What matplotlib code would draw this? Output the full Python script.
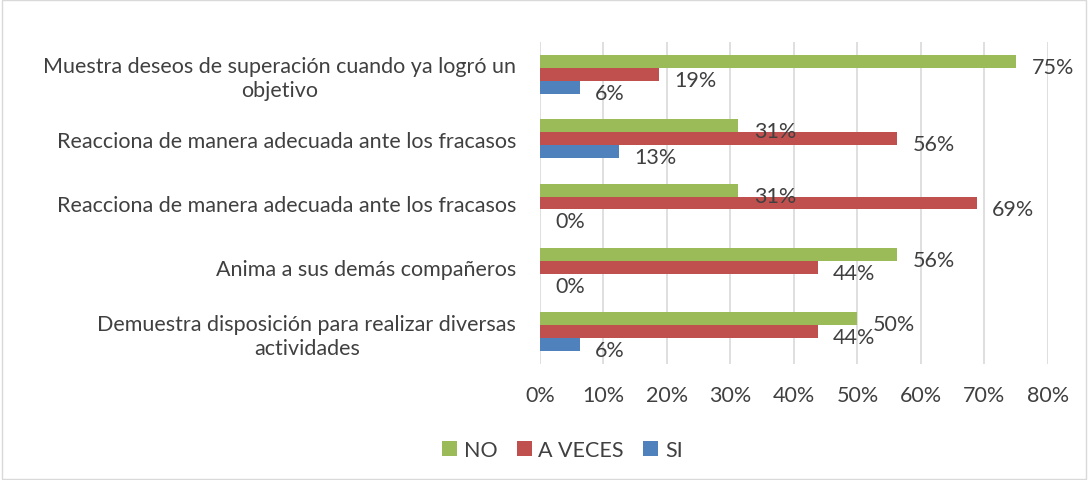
import numpy as np
import matplotlib.pyplot as plt
from matplotlib.patches import Rectangle

plt.rcParams['font.family'] = ['Lato', 'DejaVu Sans']

categories = [
    "Muestra deseos de superación cuando ya logró un\nobjetivo",
    "Reacciona de manera adecuada ante los fracasos",
    "Reacciona de manera adecuada ante los fracasos",
    "Anima a sus demás compañeros",
    "Demuestra disposición para realizar diversas\nactividades",
]
no_vals = [75, 31.25, 31.25, 56.25, 50]
aveces_vals = [18.75, 56.25, 68.75, 43.75, 43.75]
si_vals = [6.25, 12.5, 0, 0, 6.25]
series_names = ["NO", "A VECES", "SI"]
colors = ["#9BBB59", "#C0504D", "#4F81BD"]
text_color = "#404040"
fs = 15.5

fig = plt.figure(figsize=(10.88, 4.81), dpi=100)
ax = fig.add_axes([0.4963, 0.2412, 0.4669, 0.6694])

y = np.arange(len(categories))
h = 0.2
series = [no_vals, aveces_vals, si_vals]
for k, (vals, name, c) in enumerate(zip(series, series_names, colors)):
    pos = y + (k - 1) * h
    ax.barh(pos, vals, height=h, color=c, label=name, zorder=3)
    for p, v in zip(pos, vals):
        ax.annotate(f"{int(v + 0.5)}%", (v, p), xytext=(11, -4), textcoords="offset points",
                    ha="left", va="center", fontsize=fs, color=text_color, zorder=4)

ax.set_xlim(0, 80)
ax.set_ylim(len(categories) - 0.5, -0.5)
ax.set_xticks(np.arange(0, 81, 10))
ax.set_xticklabels([f"{t}%" for t in range(0, 81, 10)])
ax.set_yticks(y)
ax.set_yticklabels(categories, multialignment="center", linespacing=1.25)
ax.tick_params(length=0, labelsize=fs, colors=text_color)
ax.tick_params(axis="x", pad=15)
ax.tick_params(axis="y", pad=17)
ax.grid(axis="x", color="#d9d9d9", linewidth=1.2, zorder=0)
for s in ax.spines.values():
    s.set_visible(False)

fig.legend(loc="center", bbox_to_anchor=(0.517, 0.063), ncol=3, frameon=False,
           fontsize=fs, handlelength=0.7, handleheight=0.7, handletextpad=0.3,
           columnspacing=0.9, labelcolor=text_color)

fig.patches.append(Rectangle((0.002, 0.003), 0.996, 0.994, transform=fig.transFigure,
                             fill=False, edgecolor="#d9d9d9", linewidth=1))

fig.savefig("out.png", dpi=100)
